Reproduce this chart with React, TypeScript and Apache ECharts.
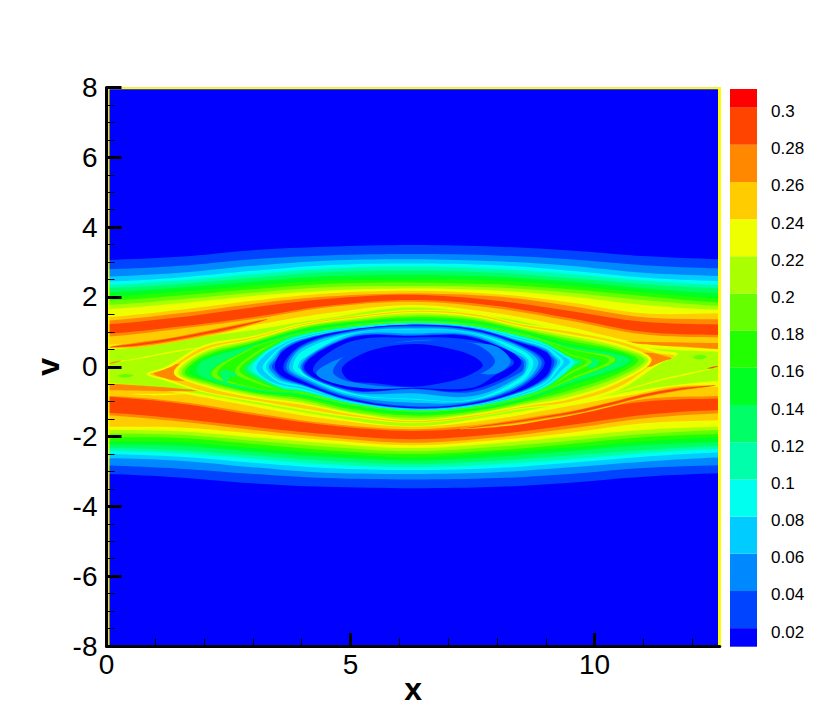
import React, { useEffect, useRef } from "react";
import * as echarts from "echarts";

const xMax = 12.566;
const bandColors = ["#0000ff","#0044ff","#0088ff","#00ccff","#00ffee","#00ffaa","#00ff66","#00ff22","#22ff00","#66ff00","#aaff00","#eeff00","#ffcc00","#ff8800","#ff4400","#ff0000"];
const barEdges = [0.01,0.02,0.04,0.06,0.08,0.1,0.12,0.14,0.16,0.18,0.2,0.22,0.24,0.26,0.28,0.3,0.31];
const barLabels = ["0.02","0.04","0.06","0.08","0.1","0.12","0.14","0.16","0.18","0.2","0.22","0.24","0.26","0.28","0.3"];
const barTicks = [0.02,0.04,0.06,0.08,0.1,0.12,0.14,0.16,0.18,0.2,0.22,0.24,0.26,0.28,0.3];
const xMajor = [0,5,10];
const xMinor = [1,2,3,4,6,7,8,9,11,12];

const outerX = [0,1.5,3,4.5,6.28,8,9.5,11,12.566];
const up1 = [3.06,3.15,3.34,3.44,3.49,3.44,3.33,3.17,3.08];
const up2 = [2.79,2.89,3.08,3.19,3.23,3.19,3.08,2.91,2.82];
const up3 = [2.58,2.69,2.89,3.04,3.08,3.02,2.89,2.69,2.60];
const up4 = [2.44,2.56,2.75,2.91,2.96,2.91,2.75,2.56,2.46];
const up5 = [2.34,2.47,2.65,2.81,2.87,2.80,2.65,2.47,2.34];
const up6 = [2.25,2.37,2.55,2.71,2.75,2.69,2.54,2.37,2.25];
const up7 = [2.13,2.27,2.44,2.59,2.63,2.58,2.44,2.25,2.10];
const up8 = [2.01,2.15,2.32,2.47,2.50,2.47,2.32,2.13,1.96];
const up9 = [1.89,2.04,2.22,2.37,2.41,2.36,2.22,2.03,1.84];
const up10 = [1.77,1.93,2.12,2.28,2.31,2.27,2.12,1.91,1.74];
const up11 = [1.65,1.82,2.03,2.18,2.24,2.18,2.01,1.77,1.63];
const up12 = [1.42,1.63,1.89,2.10,2.18,2.08,1.84,1.53,1.53];
const up13 = [1.32,1.53,1.80,2.01,2.10,2.01,1.74,1.42,1.36];
const up14 = [1.22,1.42,1.70,1.94,2.06,1.89,1.60,1.29,1.21];
const lo1 = [-3.07,-3.17,-3.34,-3.44,-3.48,-3.44,-3.32,-3.15,-3.05];
const lo2 = [-2.83,-2.92,-3.07,-3.19,-3.23,-3.19,-3.07,-2.90,-2.82];
const lo3 = [-2.62,-2.69,-2.88,-3.04,-3.07,-3.02,-2.88,-2.72,-2.60];
const lo4 = [-2.50,-2.58,-2.75,-2.90,-2.96,-2.90,-2.75,-2.58,-2.46];
const lo5 = [-2.41,-2.48,-2.63,-2.79,-2.88,-2.79,-2.65,-2.48,-2.35];
const lo6 = [-2.32,-2.39,-2.54,-2.69,-2.79,-2.69,-2.54,-2.39,-2.27];
const lo7 = [-2.23,-2.27,-2.43,-2.58,-2.69,-2.58,-2.42,-2.25,-2.16];
const lo8 = [-2.14,-2.16,-2.33,-2.48,-2.60,-2.46,-2.31,-2.14,-2.02];
const lo9 = [-2.02,-2.04,-2.21,-2.39,-2.50,-2.39,-2.21,-2.02,-1.93];
const lo10 = [-1.91,-1.95,-2.12,-2.29,-2.42,-2.29,-2.12,-1.93,-1.81];
const lo11 = [-1.81,-1.85,-2.02,-2.19,-2.33,-2.19,-2.00,-1.81,-1.72];
const lo12 = [-1.72,-1.74,-1.91,-2.10,-2.25,-2.10,-1.89,-1.62,-1.53];
const lo13 = [-1.39,-1.57,-1.81,-2.02,-2.18,-2.02,-1.77,-1.48,-1.33];
const lo14 = [-1.32,-1.49,-1.72,-1.93,-2.08,-1.93,-1.67,-1.38,-1.24];

const innerUp13 = [.94,1.15,1.42,1.74,1.91,1.74,1.39,1.0,.91];
const innerLo13 = [-.86,-1.05,-1.38,-1.67,-1.84,-1.67,-1.33,-1.0,-.91];
const innerUp12 = [.86,1.09,1.36,1.70,1.86,1.67,1.32,.93,.84];
const innerLo12 = [-.83,-1.0,-1.32,-1.62,-1.79,-1.60,-1.29,-.93,-.84];
const innerUp11 = [.62,.88,1.19,1.53,1.77,1.53,1.13,.67,.50];
const innerLo11 = [-.49,-.76,-1.14,-1.49,-1.72,-1.49,-1.12,-.76,-.57];
const innerUp10 = [.46,.77,1.05,1.39,1.70,1.42,1.0,.56,.43];
const innerLo10 = [-.46,-.69,-1.05,-1.41,-1.70,-1.39,-1.03,-.65,-.40];

type Layer = [number, number[], number[], number[]];

const fullLayers: Layer[] = [
  [0, outerX, [8,8,8,8,8,8,8,8,8], [-8,-8,-8,-8,-8,-8,-8,-8,-8]],
  [1, outerX, up1, lo1],[2, outerX, up2, lo2],[3, outerX, up3, lo3],[4, outerX, up4, lo4],
  [5, outerX, up5, lo5],[6, outerX, up6, lo6],[7, outerX, up7, lo7],[8, outerX, up8, lo8],
  [9, outerX, up9, lo9],[10, outerX, up10, lo10],[11, outerX, up11, lo11],[12, outerX, up12, lo12],
  [13, outerX, up13, lo13],[14, outerX, up14, lo14],
  [13, outerX, innerUp13, innerLo13],[12, outerX, innerUp12, innerLo12],
  [11, outerX, innerUp11, innerLo11],[10, outerX, innerUp10, innerLo10],
];

const streakLayers: Layer[] = [
  [12,[.05,.6,1.2,1.9,2.6,3.3],[.56,.73,.84,1.02,1.22,1.36],[.56,.54,.65,.83,1.03,1.36]],
  [13,[.05,.6,1.2,1.9,2.6,3.3],[.56,.69,.80,.99,1.19,1.36],[.56,.58,.69,.87,1.07,1.36]],
  [14,[.05,.6,1.2,1.9,2.6,3.3],[.56,.66,.78,.96,1.16,1.36],[.56,.60,.72,.90,1.10,1.36]],
  [12,[12.49,11.68,10.99,10.31,9.63,8.95,8.26,7.24],[-.54,-.56,-.74,-.98,-1.20,-1.36,-1.52,-1.78],[-.54,-.73,-.91,-1.15,-1.37,-1.54,-1.69,-1.78]],
  [13,[12.49,11.68,10.99,10.31,9.63,8.95,8.26,7.24],[-.54,-.60,-.78,-1.02,-1.24,-1.40,-1.55,-1.78],[-.54,-.70,-.88,-1.12,-1.34,-1.50,-1.65,-1.78]],
  [14,[12.49,11.68,10.99,10.31,9.63,8.95,8.26,7.24],[-.54,-.63,-.80,-1.04,-1.26,-1.43,-1.58,-1.78],[-.54,-.68,-.86,-1.10,-1.32,-1.47,-1.62,-1.78]],
  [11,[.07,.55,1.02,1.5,2.25],[.12,.23,.36,.48,.62],[.12,.19,.32,.44,.62]],
  [13,[.03,.15,.3],[.08,.14,.17],[.08,.10,.17]],
  [11,[12.5,12.02,11.41,10.59,10.04],[-.02,-.15,-.34,-.67,-.86],[-.02,-.19,-.38,-.70,-.86]],
  [14,[12.3,12.42,12.55],[-.05,-.0,.02],[-.05,-.04,.02]],
  [11,[.44,1.02,1.64],[-.78,-.77,-.77],[-.78,-.82,-.77]],
  [13,[0,.6,1.2,1.9],[-.49,-.53,-.59,-.69],[-.67,-.68,-.70,-.69]],
  [13,[10.55,11.2,12,12.566],[.72,.71,.69,.68],[.72,.62,.56,.51]],
  [9,[.24,.38,.55],[-.265,-.21,-.25],[-.265,-.31,-.25]],
  [9,[12.02,12.15,12.29],[.27,.34,.29],[.27,.21,.29]],
];

const eyeX1 = [.82,1.2,2,3,4,5,6.28,7.5,8.5,9.5,10.5,11.3,11.71];
const eyeX2 = [.89,1.25,2,3,4,5,6.28,7.5,8.5,9.5,10.5,11.25,11.64];
const eyeLayers: Layer[] = [
  [11,eyeX1,[-.21,-.01,.62,.88,1.24,1.45,1.63,1.55,1.24,1.07,.79,.48,.37],[-.21,-.40,-.74,-1.0,-1.24,-1.45,-1.62,-1.45,-1.21,-1.05,-.67,.05,.37]],
  [12,eyeX2,[-.21,-.05,.56,.84,1.21,1.43,1.60,1.51,1.21,1.0,.72,.40,.31],[-.21,-.36,-.70,-.95,-1.19,-1.41,-1.59,-1.43,-1.18,-1.0,-.57,.10,.31]],
  [13,[.96,1.16,1.33,1.45],[-.2,-.09,0,.08],[-.2,-.31,-.38,-.40]],
  [13,[11.13,11.27,11.44,11.58],[.40,.37,.31,.24],[0,.08,.17,.24]],
  [11,[1.38,2,3,4,5,6.28,7.5,8.5,9.5,10.5,11.17],[-.17,.48,.81,1.19,1.40,1.57,1.47,1.17,.94,.65,.19],[-.17,-.57,-.89,-1.09,-1.36,-1.56,-1.40,-1.15,-.93,-.46,.19]],
  [10,[1.47,2,3,4,5,6.28,7.5,8.5,9.5,10.5,11.1],[-.17,.43,.77,1.16,1.37,1.53,1.43,1.13,.88,.57,.19],[-.17,-.51,-.83,-1.03,-1.31,-1.53,-1.36,-1.11,-.86,-.38,.19]],
  [9,[1.54,2,3,4,5,6.28,7.5,8.5,9.5,10.5,11.03],[-.17,.37,.73,1.13,1.33,1.47,1.39,1.09,.81,.51,.19],[-.17,-.46,-.78,-.97,-1.28,-1.46,-1.33,-1.07,-.76,-.29,.19]],
  [8,[1.6,2,3,4,5,6.28,7.5,8.5,9.5,10.5,10.9],[-.17,.31,.69,1.09,1.29,1.42,1.34,1.05,.74,.46,.19],[-.17,-.40,-.74,-.91,-1.21,-1.40,-1.28,-1.02,-.67,-.19,.19]],
  [7,[1.68,2,3,4,5,6.28,7.5,8.5,9.5,10.5,10.8],[-.14,.25,.65,1.05,1.25,1.37,1.29,1.0,.65,.40,.19],[-.14,-.36,-.70,-.86,-1.15,-1.35,-1.24,-.98,-.55,-.09,.19]],
  [6,[1.85,2,3,4,5,6.28,7.5,8.5,9.5,10.5,10.72],[-.07,.19,.61,1.0,1.21,1.33,1.25,.98,.57,.34,.19],[-.07,-.33,-.67,-.81,-1.12,-1.31,-1.21,-.94,-.46,-.02,.19]],
  [8,[2.12,3,3.6,4,5,6.28,7.5,8.5,9,9.5,10.45],[-.21,.57,.83,.99,1.20,1.31,1.23,.96,.76,.54,.21],[-.21,-.63,-.72,-.78,-1.10,-1.30,-1.20,-.92,-.68,-.40,.21]],
  [9,[2.15,3,3.6,4,5,6.28,7.5,8.5,9,9.5,10.42],[-.21,.56,.82,.98,1.19,1.30,1.22,.95,.75,.52,.21],[-.21,-.61,-.71,-.77,-1.09,-1.29,-1.19,-.91,-.67,-.38,.21]],
  [8,[2.27,3,3.6,4,5,6.28,7.5,8.5,9,9.5,10.3],[-.19,.53,.81,.98,1.18,1.29,1.21,.94,.74,.50,.19],[-.19,-.59,-.70,-.76,-1.08,-1.28,-1.18,-.90,-.66,-.34,.19]],
  [6,[2.32,2.45,2.55],[-.19,-.07,-.14],[-.19,-.46,-.29]],
  [6,[9.77,9.95,10.1],[.10,.24,.15],[.10,-.05,.15]],
  [9,[2.63,3,3.6,4,5,6.28,7.5,8.5,9,9.5,9.94],[-.14,.36,.79,.96,1.16,1.28,1.19,.91,.73,.36,.15],[-.14,-.43,-.68,-.74,-1.07,-1.27,-1.17,-.89,-.65,-.21,.15]],
  [8,[2.72,3,3.6,4,5,6.28,7.5,8.5,9,9.5,9.85],[-.09,.29,.78,.95,1.15,1.27,1.18,.89,.71,.33,.15],[-.09,-.36,-.67,-.72,-1.06,-1.26,-1.16,-.87,-.63,-.15,.15]],
  [6,[2.82,3,3.6,4,5,6.28,7.5,8.5,9,9.5,9.75],[-.07,.21,.76,.94,1.15,1.27,1.17,.88,.69,.27,.15],[-.07,-.29,-.65,-.71,-1.05,-1.25,-1.15,-.86,-.61,-.07,.15]],
  [5,[2.9,3,3.6,4,5,6.28,7.5,8.5,9,9.5,9.67],[-.05,.12,.73,.92,1.14,1.26,1.17,.88,.66,.19,.15],[-.05,-.19,-.62,-.70,-1.05,-1.25,-1.15,-.85,-.59,0,.15]],
];

const ringLayers: Layer[] = [
  [4,[2.98,3.2,3.6,4,5,6.28,7.5,8.5,9,9.4,9.59],[-.05,.37,.69,.89,1.12,1.25,1.16,.85,.63,.34,.15],[-.05,-.33,-.59,-.67,-1.03,-1.24,-1.13,-.82,-.56,-.17,.15]],
  [3,[3.07,3.25,3.6,4,5,6.28,7.5,8.5,9,9.35,9.5],[-.03,.34,.64,.86,1.10,1.24,1.14,.81,.60,.31,.15],[-.03,-.33,-.53,-.62,-1.01,-1.23,-1.12,-.80,-.51,-.07,.15]],
  [4,[3.2,3.35,3.6,4,5,6.28,7.5,8.5,9,9.25,9.37],[-.02,.29,.59,.83,1.09,1.23,1.13,.78,.58,.34,.15],[-.02,-.28,-.48,-.58,-1.0,-1.22,-1.11,-.77,-.48,-.09,.15]],
  [3,[3.27,3.4,3.6,4,5,6.28,7.5,8.5,9,9.2,9.3],[-.01,.27,.56,.80,1.08,1.22,1.12,.75,.54,.31,.15],[-.01,-.27,-.43,-.55,-.99,-1.21,-1.10,-.74,-.44,-.09,.15]],
  [2,[3.33,3.45,3.6,4,5,6.28,7.5,8.5,9,9.15,9.24],[0,.24,.52,.79,1.07,1.21,1.11,.73,.50,.31,.15],[0,-.24,-.38,-.53,-.98,-1.20,-1.09,-.72,-.38,-.11,.15]],
  [1,[3.39,3.5,3.6,4,5,6.28,7.5,8.5,9,9.1,9.18],[0,.24,.47,.76,1.06,1.20,1.10,.70,.46,.31,.15],[0,-.21,-.33,-.51,-.97,-1.19,-1.08,-.70,-.33,-.14,.15]],
  [0,[3.45,3.6,4,5,6.28,7.5,8.5,9,9.12],[0,.42,.74,1.05,1.20,1.08,.68,.42,.15],[0,-.27,-.49,-.95,-1.18,-1.07,-.68,-.27,.15]],
  [1,[3.62,4,5,6.28,7.5,8.5,8.98],[-.02,.62,1.03,1.18,1.05,.61,.12],[-.02,-.40,-.92,-1.16,-1.04,-.59,.12]],
  [2,[3.68,4,5,6.28,7.5,8.5,8.92],[-.02,.58,1.01,1.15,1.03,.58,.12],[-.02,-.36,-.89,-1.13,-1.02,-.54,.12]],
  [3,[3.74,4,5,6.28,7.5,8.5,8.85],[-.02,.53,.98,1.10,1.0,.54,.12],[-.02,-.30,-.84,-1.03,-.99,-.49,.12]],
  [4,[3.82,4,5,6.28,7.5,8.5,8.75],[-.02,.43,.95,1.08,.97,.48,.12],[-.02,-.24,-.79,-.94,-.96,-.43,.12]],
  [3,[3.92,4,5,6.28,7.5,8.5,8.65],[-.02,.21,.93,1.07,.95,.37,.12],[-.02,-.07,-.75,-.92,-.94,-.30,.12]],
  [2,[3.97,5,6.28,7.5,8.5,8.6],[-.02,.88,.95,.90,.29,.12],[-.02,-.72,-.76,-.84,-.25,.12]],
  [1,[4.01,5,6.28,7.5,8.5,8.55],[-.02,.85,.90,.87,.21,.12],[-.02,-.68,-.64,-.72,-.14,.12]],
  [0,[4.05,5,6.28,7.5,8.5],[-.02,.83,.88,.84,.12],[-.02,-.66,-.62,-.66,.12]],
  [1,[4.23,5,6.28,7.5,8,8.35],[-.09,.72,.84,.76,.46,.12],[-.09,-.52,-.60,-.60,-.21,.12]],
  [2,[4.3,5,6.28,7.5,8,8.28],[-.19,.35,.75,.69,.57,.15],[-.19,-.57,-.59,-.21,-.19,.15]],
  [1,[4.64,5,6.28,7.5,7.96],[-.14,.40,.73,.67,.15],[-.14,-.43,-.58,-.29,.15]],
  [0,[4.82,5,5.5,6.28,7,7.5,7.71],[-.09,.19,.50,.65,.53,.31,.05],[-.09,-.40,-.47,-.57,-.43,-.19,.05]],
];

const layers: Layer[] = [...fullLayers, ...streakLayers, ...eyeLayers, ...ringLayers];

function layerPoints(layer: Layer): [number, number][] {
  const [, xs, top, bot] = layer;
  const pts: [number, number][] = [];
  const last = xs.length - 1;
  const openL = top[0] !== bot[0];
  const openR = top[last] !== bot[last];
  if (openL) pts.push([xs[0] - 1, top[0]]);
  xs.forEach((x, i) => pts.push([x, top[i]]));
  if (openR) pts.push([xs[last] + 1, top[last]], [xs[last] + 1, bot[last]]);
  for (let i = last; i >= 0; i--) {
    if (i === last && !openR) continue;
    if (i === 0 && !openL) continue;
    pts.push([xs[i], bot[i]]);
  }
  if (openL) pts.push([xs[0] - 1, bot[0]]);
  return pts;
}

export default function App() {
  const ref = useRef<HTMLDivElement>(null);
  useEffect(() => {
    const chart = echarts.init(ref.current!, null, { renderer: "svg" });
    const font = "Liberation Sans";
    chart.setOption({
      animation: false,
      backgroundColor: "#ffffff",
      grid: [
        { left: 106.5, top: 87.5, width: 613.3, height: 558.5 },
        { left: 730, top: 89, width: 27, height: 557.7 },
      ],
      xAxis: [
        {
          type: "value", gridIndex: 0, min: 0, max: xMax, z: 6, position: "bottom",
          name: "x", nameLocation: "middle", nameGap: 43, nameMoveOverlap: false,
          nameTextStyle: { fontFamily: font, fontWeight: "bold", fontSize: 32, color: "#000", verticalAlign: "middle" },
          axisLine: { show: true, onZero: false, lineStyle: { color: "#000", width: 3 } },
          axisTick: { show: true, inside: true, length: 13, customValues: xMajor, lineStyle: { color: "#000", width: 3 } },
          axisLabel: { show: true, customValues: xMajor, margin: 4, fontFamily: font, fontSize: 28, color: "#000" },
          splitLine: { show: false },
        },
        {
          type: "value", gridIndex: 0, min: 0, max: xMax, z: 6, position: "bottom",
          axisLine: { show: false, onZero: false },
          axisTick: { show: true, inside: true, length: 8, customValues: xMinor, lineStyle: { color: "#000", width: 1 } },
          axisLabel: { show: false },
          splitLine: { show: false },
        },
        { type: "value", gridIndex: 1, min: 0, max: 1, show: false },
      ],
      yAxis: [
        {
          type: "value", gridIndex: 0, min: -8, max: 8, interval: 2, z: 6, position: "left",
          name: "v", nameLocation: "middle", nameGap: 59, nameRotate: 90, nameMoveOverlap: false,
          nameTextStyle: { fontFamily: font, fontWeight: "bold", fontSize: 32, color: "#000", verticalAlign: "middle" },
          axisLine: { show: true, onZero: false, lineStyle: { color: "#000", width: 3 } },
          axisTick: { show: true, inside: true, length: 15, lineStyle: { color: "#000", width: 3 } },
          minorTick: { show: true, splitNumber: 4, length: 8, lineStyle: { color: "#000", width: 1 } },
          axisLabel: { show: true, margin: 9, fontFamily: font, fontSize: 28, color: "#000" },
          splitLine: { show: false },
        },
        {
          type: "value", gridIndex: 1, min: 0.01, max: 0.31, position: "right",
          axisLine: { show: false },
          axisTick: { show: false },
          axisLabel: {
            show: true, customValues: barTicks, margin: 14, fontFamily: font, fontSize: 17, color: "#000",
            verticalAlign: "top", lineHeight: 8,
            formatter: (val: number) => barLabels[barTicks.findIndex((t) => Math.abs(t - val) < 1e-6)] ?? "",
          },
          splitLine: { show: false },
        },
      ],
      graphic: [
        { type: "line", z: 4, shape: { x1: 108, y1: 88.3, x2: 721, y2: 88.3 }, style: { stroke: "#ffff00", lineWidth: 2 } },
        { type: "line", z: 4, shape: { x1: 108.8, y1: 88, x2: 108.8, y2: 645 }, style: { stroke: "#ffff00", lineWidth: 1.4 } },
        { type: "line", z: 4, shape: { x1: 719.5, y1: 87.3, x2: 719.5, y2: 647 }, style: { stroke: "#ffff00", lineWidth: 3 } },
      ],
      series: [
        {
          type: "custom", xAxisIndex: 0, yAxisIndex: 0, coordinateSystem: "cartesian2d", clip: true, z: 2,
          data: layers.map((_, i) => [i, 0]),
          renderItem: (_p: any, api: any) => {
            const layer = layers[api.value(0) as number];
            return {
              type: "polygon",
              shape: { points: layerPoints(layer).map((p) => api.coord(p)), smooth: 0.35 },
              style: { fill: bandColors[layer[0]], stroke: "none" },
            };
          },
        },
        {
          type: "custom", xAxisIndex: 2, yAxisIndex: 1, coordinateSystem: "cartesian2d", z: 2,
          data: bandColors.map((_, i) => [i, barEdges[i]]),
          renderItem: (_p: any, api: any) => {
            const i = api.value(0) as number;
            const a = api.coord([0, barEdges[i + 1]]);
            const b = api.coord([1, barEdges[i]]);
            return { type: "rect", shape: { x: a[0], y: a[1], width: b[0] - a[0], height: b[1] - a[1] }, style: { fill: bandColors[i] } };
          },
        },
      ],
    });
    return () => chart.dispose();
  }, []);
  return <div ref={ref} style={{ position: "absolute", left: 0, top: 0, width: 818, height: 727 }} />;
}
